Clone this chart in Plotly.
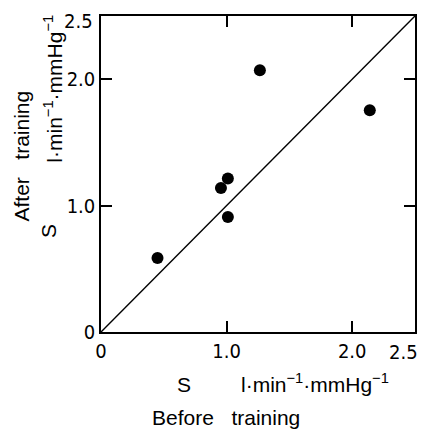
import plotly.graph_objects as go

# S before vs after training (l·min-1·mmHg-1)
before = [0.45, 0.955, 1.01, 1.01, 1.265, 2.14]
after = [0.585, 1.14, 1.215, 0.91, 2.07, 1.755]

identity = [0, 2.5]
tick_vals = [0, 1.0, 2.0, 2.5]
tick_text = ["0", "1.0", "2.0", ""]  # the 2.5 end labels are placed by hand below
end_label = "2.5"

units = "l·min<sup>−1</sup>·mmHg<sup>−1</sup>"

fig = go.Figure()
fig.add_trace(go.Scatter(x=identity, y=identity, mode="lines",
                         line=dict(color="black", width=1.4), hoverinfo="skip"))
fig.add_trace(go.Scatter(x=before, y=after, mode="markers",
                         marker=dict(color="black", size=12)))

tick_font = dict(family="Liberation Sans Narrow, DejaVu Sans Condensed, sans-serif",
                 size=20, color="black")
axis_style = dict(
    range=[0, 2.5], tickvals=tick_vals, ticktext=tick_text, automargin=False,
    showgrid=False, zeroline=False, showline=True, linecolor="black", linewidth=1.5,
    mirror="ticks", ticks="inside", ticklen=11, tickwidth=1.5, tickcolor="black",
    tickfont=tick_font,
)
fig.update_xaxes(**axis_style)
fig.update_yaxes(**axis_style)

font = dict(family="Liberation Sans, DejaVu Sans, sans-serif", size=21, color="black")
notes = [
    # x axis title
    dict(text="S", x=0.264, y=-0.165, textangle=0),
    dict(text=units, x=0.682, y=-0.16, textangle=0),
    dict(text="Before   training", x=0.398, y=-0.272, textangle=0),
    # y axis title
    dict(text="After   training", x=-0.253, y=0.557, textangle=-90),
    dict(text="S", x=-0.165, y=0.32, textangle=-90),
    dict(text=units, x=-0.153, y=0.77, textangle=-90),
]
for n in notes:
    fig.add_annotation(xref="paper", yref="paper", showarrow=False,
                       xanchor="center", yanchor="middle", font=font, **n)

# end-of-axis labels, nudged inside the page like the original
fig.add_annotation(xref="paper", yref="paper", showarrow=False, text=end_label,
                   x=1.017, y=-0.063, xanchor="right", yanchor="middle", font=tick_font)
fig.add_annotation(xref="paper", yref="paper", showarrow=False, text=end_label,
                   x=-0.018, y=0.984, xanchor="right", yanchor="middle", font=tick_font)

# page body adds an 8px offset, so the figure is sized and margined to suit
fig.update_layout(
    width=422, height=423,
    margin=dict(l=93, r=15, t=8, b=99),
    plot_bgcolor="white", paper_bgcolor="white",
    showlegend=False,
)

fig.write_html("out.html")
